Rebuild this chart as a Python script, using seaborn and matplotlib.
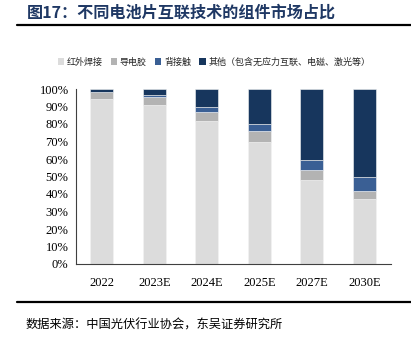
import numpy as np
import pandas as pd
import matplotlib
matplotlib.use("Agg")
import matplotlib.pyplot as plt
from matplotlib.patches import Patch
from matplotlib.lines import Line2D
import seaborn as sns

# Market share of module interconnection technologies (%)
years = ["2022", "2023E", "2024E", "2025E", "2027E", "2030E"]
soldering = [94.5, 91.0, 82.0, 70.0, 48.0, 37.0]
conductive_glue = [4.0, 4.5, 5.0, 6.0, 5.5, 5.0]
back_contact = [0.0, 1.0, 3.0, 4.0, 6.0, 8.0]
others = [1.5, 3.5, 10.0, 20.0, 40.5, 50.0]

series_names = ["红外焊接", "导电胶", "背接触", "其他（包含无应力互联、电磁、激光等）"]
series_colors = ["#DCDCDC", "#B3B3B3", "#3A5F94", "#17365D"]

df = pd.DataFrame({"year": years, "s0": soldering, "s1": conductive_glue,
                   "s2": back_contact, "s3": others})

sns.set_theme(style="white")
cjk = ["Noto Sans CJK SC", "DejaVu Sans"]
serif = ["Liberation Serif", "DejaVu Serif"]
plt.rcParams["font.family"] = cjk

fig = plt.figure(figsize=(4.11, 3.43), dpi=100)
ax = fig.add_axes([75.5 / 411, 1 - 264 / 343, 315 / 411, 175 / 343])

bottom = np.zeros(len(years))
for i, col in enumerate(["s0", "s1", "s2", "s3"]):
    sns.barplot(data=df, x="year", y=col, order=years, color=series_colors[i],
                bottom=bottom, width=0.44, edgecolor="#F4F4F4", linewidth=0.4,
                saturation=1, ax=ax)
    bottom = bottom + df[col].to_numpy()

ax.set_ylim(0, 100)
ax.set_xlim(-0.5, len(years) - 0.5)
ax.set_yticks(np.arange(0, 101, 10))
ax.set_yticklabels([f"{v}%" for v in range(0, 101, 10)], fontfamily=serif, fontsize=9)
ax.set_xticks(range(len(years)))
ax.set_xticklabels(years, fontfamily=serif, fontsize=9)
ax.set_xlabel("")
ax.set_ylabel("")
ax.set_xticks(np.arange(-0.5, len(years), 1), minor=True)
ax.tick_params(axis="x", which="major", length=0, pad=9, colors="black")
ax.tick_params(axis="x", which="minor", length=3, direction="in", color="#404040", width=0.8)
ax.tick_params(axis="y", length=3, direction="out", color="#404040", width=0.8, pad=2,
               labelcolor="black")

for s in ["top", "right"]:
    ax.spines[s].set_visible(False)
for s in ["left", "bottom"]:
    ax.spines[s].set_color("#404040")
    ax.spines[s].set_linewidth(0.8)

handles = [Patch(facecolor=c, edgecolor="none") for c in series_colors]
fig.legend(handles, series_names, loc="center", bbox_to_anchor=(214 / 411, 1 - 62 / 343),
           ncol=4, frameon=False, fontsize=6.5, handlelength=0.7, handleheight=0.7,
           handletextpad=0.3, columnspacing=0.9, borderaxespad=0)

# Title and rules
fig.text(27 / 411, 1 - 13 / 343, "图17：不同电池片互联技术的组件市场占比",
         fontsize=11.6, fontweight="bold", color="#1F3864", va="center", ha="left")
fig.add_artist(Line2D([17 / 411, 1], [1 - 25 / 343, 1 - 25 / 343], color="black", lw=1.6))
fig.add_artist(Line2D([17 / 411, 1], [1 - 302 / 343, 1 - 302 / 343], color="black", lw=1.6))
fig.text(26 / 411, 1 - 325 / 343, "数据来源：中国光伏行业协会，东吴证券研究所",
         fontsize=8.8, color="black", va="center", ha="left")

fig.savefig("out.png", dpi=100, facecolor="white")
